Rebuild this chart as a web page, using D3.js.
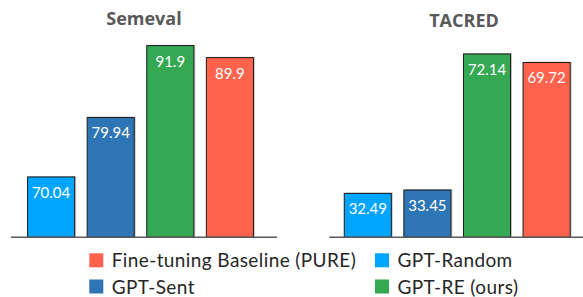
<!DOCTYPE html>
<html>
<head>
<meta charset="utf-8">
<script src="https://cdn.jsdelivr.net/npm/d3@7/dist/d3.min.js"></script>
<style>
  html, body { margin: 0; padding: 0; background: #fff; }
  svg { display: block; }
  text { font-family: Lato, "Open Sans", sans-serif; }
</style>
</head>
<body>
<svg id="chart" width="583" height="297"></svg>
<script>
const datasets = ["Semeval", "TACRED"];
const methods = ["GPT-Random", "GPT-Sent", "GPT-RE (ours)", "Fine-tuning Baseline (PURE)"];
const semevalValues = [70.04, 79.94, 91.9, 89.9];
const tacredValues = [32.49, 33.45, 72.14, 69.72];
const yDomains = [[60, 100], [20, 80]];
const legendOrder = ["Fine-tuning Baseline (PURE)", "GPT-Random", "GPT-Sent", "GPT-RE (ours)"];
const colors = {
  "GPT-Random": "#00A5FF",
  "GPT-Sent": "#2E75B6",
  "GPT-RE (ours)": "#34A853",
  "Fine-tuning Baseline (PURE)": "#FF634D"
};

const svg = d3.select("#chart");
const baseY = 237.3;

const panels = [
  { name: datasets[0], values: semevalValues, domain: yDomains[0],
    band: [21.3, 259.7], axis: [11, 277], yRange: [baseY, baseY - 40 * 6.01], titleX: 144, titleY: 25 },
  { name: datasets[1], values: tacredValues, domain: yDomains[1],
    band: [338, 576.4], axis: [329.3, 583], yRange: [baseY, baseY - 60 * 3.516], titleX: 464, titleY: 27 }
];

panels.forEach(p => {
  const x = d3.scaleBand().domain(methods).range(p.band).paddingInner(0.21).paddingOuter(0.105);
  const y = d3.scaleLinear().domain(p.domain).range(p.yRange);
  const g = svg.append("g");
  const data = methods.map((m, i) => ({ m, v: p.values[i] }));

  g.selectAll("rect.shadow").data(data).join("rect")
    .attr("class", "shadow")
    .attr("x", d => x(d.m) + 1.5)
    .attr("y", d => y(d.v) - 0.8)
    .attr("width", x.bandwidth())
    .attr("height", d => y(p.domain[0]) - y(d.v))
    .attr("fill", "#c8c8c8");

  g.selectAll("rect.bar").data(data).join("rect")
    .attr("class", "bar")
    .attr("x", d => x(d.m))
    .attr("y", d => y(d.v))
    .attr("width", x.bandwidth())
    .attr("height", d => y(p.domain[0]) - y(d.v))
    .attr("fill", d => colors[d.m])
    .attr("stroke", "#1a1a1a")
    .attr("stroke-width", 1);

  g.selectAll("text.val").data(data).join("text")
    .attr("class", "val")
    .attr("x", d => x(d.m) + x.bandwidth() / 2)
    .attr("y", d => y(d.v) + 21)
    .attr("text-anchor", "middle")
    .attr("fill", "#ffffff")
    .attr("font-size", 15)
    .text(d => String(d.v));

  g.append("line")
    .attr("x1", p.axis[0]).attr("x2", p.axis[1])
    .attr("y1", y(p.domain[0])).attr("y2", y(p.domain[0]))
    .attr("stroke", "#595959").attr("stroke-width", 1.6);

  g.append("text")
    .attr("x", p.titleX).attr("y", p.titleY)
    .attr("text-anchor", "middle")
    .attr("font-size", 18)
    .attr("font-weight", "bold")
    .attr("fill", "#595959")
    .style("font-family", "'Open Sans', sans-serif")
    .text(p.name);
});

const legendPos = [
  { x: 89.3, y: 253.3 }, { x: 375, y: 253.3 },
  { x: 89.3, y: 279.5 }, { x: 375, y: 279.5 }
];
const lg = svg.append("g");
legendOrder.forEach((m, i) => {
  const pos = legendPos[i];
  lg.append("rect")
    .attr("x", pos.x).attr("y", pos.y)
    .attr("width", 14).attr("height", 14)
    .attr("fill", colors[m]);
  lg.append("text")
    .attr("x", pos.x + 22.4).attr("y", pos.y + 14)
    .attr("font-size", 19)
    .attr("letter-spacing", 0.4)
    .attr("fill", "#262626")
    .text(m);
});
</script>
</body>
</html>
